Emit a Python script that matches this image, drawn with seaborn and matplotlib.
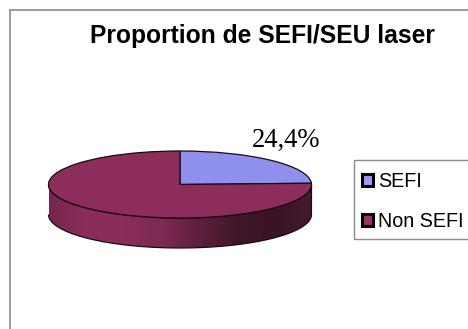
import numpy as np
import matplotlib
matplotlib.use("Agg")
import matplotlib.pyplot as plt
import seaborn as sns
from matplotlib.patches import Patch, Rectangle, PathPatch
from matplotlib.path import Path

categories = ["SEFI", "Non SEFI"]
values = [24.4, 75.6]
title = "Proportion de SEFI/SEU laser"
label = "24,4%"
top_colors = ["#8F8FEE", "#8C2D5B"]
legend_colors = ["#9999FF", "#993366"]
side_stops = ["#74264B", "#8B2E5A", "#8A2D59", "#7D2A51", "#5E1F3D", "#421629", "#3A1326", "#451A2D"]

W, H = 468, 329
sns.set_theme(style="white")
plt.rcParams["font.family"] = ["Liberation Sans", "DejaVu Sans"]
fig = plt.figure(figsize=(W / 100, H / 100), dpi=100, facecolor="white")

# outer frame, running off the right and bottom of the canvas
fig.add_artist(Rectangle((9.5 / W, -0.1), 1.2, 1.1 - 10 / H, transform=fig.transFigure,
                         fill=False, edgecolor="#8C8C8C", lw=1.2))
# legend box, also running off the right of the canvas
fig.add_artist(Rectangle((353.5 / W, 1 - 239 / H), 0.5, 79 / H, transform=fig.transFigure,
                         fill=False, edgecolor="#8C8C8C", lw=1.0))

# pie axes: the unit circle is squashed into the ellipse of the top face
left, right, top, bottom = 48.5, 311.5, 151.0, 218.0
depth = 30.0
unit = (bottom - top) / 2
ax = fig.add_axes([left / W, (H - bottom - depth) / H, (right - left) / W, (bottom - top + depth) / H])
ax.patch.set_alpha(0)
wedges, _ = ax.pie(values, colors=top_colors, startangle=90, counterclock=False, radius=1,
                   wedgeprops=dict(edgecolor="#1A0A12", linewidth=0.9, zorder=3))
ax.set_aspect("auto")
ax.set_xlim(-1, 1)
ax.set_ylim(-1 - depth / unit, 1)

# extruded rim with a left-to-right shade
t = np.linspace(np.pi, 2 * np.pi, 200)
dy = depth / unit
xs = np.concatenate([np.cos(t), np.cos(t[::-1])])
ys = np.concatenate([np.sin(t), np.sin(t[::-1]) - dy])
rim = Path(np.column_stack([xs, ys]), closed=False)
grad = np.array(sns.blend_palette(side_stops, n_colors=256))[None, :, :]
img = ax.imshow(grad, extent=(-1, 1, -1 - dy, 0), aspect="auto", zorder=1)
outline = PathPatch(rim, facecolor="none", edgecolor="#1A0A12", lw=0.9, zorder=2)
ax.add_patch(outline)
img.set_clip_path(outline)
ax.set_xlim(-1, 1)
ax.set_ylim(-1 - dy, 1)
ax.axis("off")
for w in wedges:
    w.set_clip_on(False)
outline.set_clip_on(False)

fig.text(90 / W, 1 - 36 / H, title, fontsize=17.75, fontweight="bold", color="black",
         ha="left", va="center")
fig.text(286.5 / W, 1 - 140 / H, label, fontsize=19.2, family="Liberation Serif", color="black",
         ha="center", va="center")

handles = [Patch(facecolor=c, edgecolor="black", lw=2.2) for c in legend_colors]
leg = fig.legend(handles, categories, loc="upper left", bbox_to_anchor=(362 / W, 1 - 172 / H),
                 borderaxespad=0, borderpad=0, frameon=False,
                 fontsize=14.2, handlelength=0.55, handleheight=0.55, handletextpad=0.27,
                 labelspacing=1.05, labelcolor="black")

fig.savefig("out.png", dpi=100, facecolor="white")
